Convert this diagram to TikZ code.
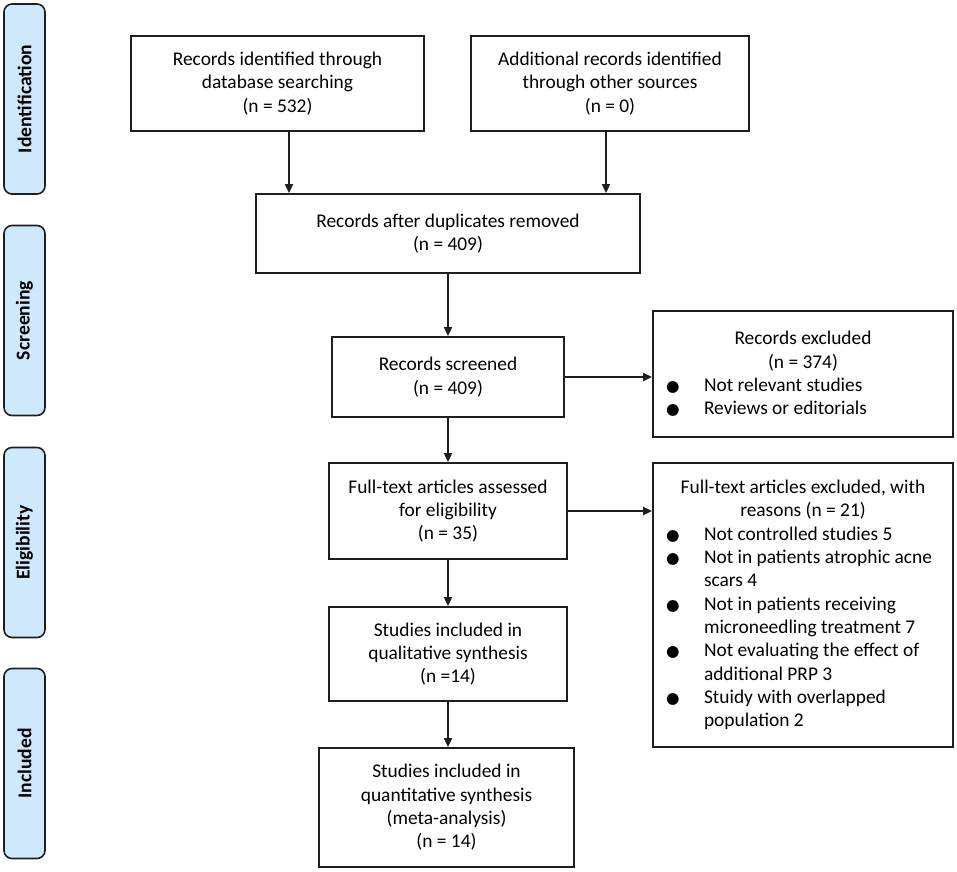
\documentclass[tikz,border=0pt]{standalone}
\usepackage{fontspec}
\setmainfont{Carlito}
\newfontfamily\symf{DejaVu Sans}
\usetikzlibrary{arrows.meta,positioning}
\definecolor{sidefill}{RGB}{207,233,252}
\definecolor{linecol}{RGB}{30,30,30}
\newcommand\bul{\makebox[51pt][l]{\hspace{13pt}{\symf\fontsize{15.5}{23.3}\selectfont ●}}}
\newcommand\ind{\hspace*{51pt}}
\begin{document}
\begin{tikzpicture}[x=1pt,y=-1pt,
  every node/.style={font=\fontsize{19.4}{23.3}\selectfont, text=black},
  mainbox/.style={draw=linecol, line width=1.8pt, fill=white, inner sep=0pt, align=center},
  sidebox/.style={draw=linecol, line width=1.6pt, fill=sidefill, rounded corners=8pt, rotate=90,
    minimum width=190pt, minimum height=41pt, inner sep=0pt, font=\fontsize{19.6}{23.3}\selectfont\bfseries},
  arr/.style={draw=linecol, line width=1.8pt, -{Triangle[length=9pt,width=8pt]}}
]
\useasboundingbox (0,0) rectangle (957,871);

% side labels
\node[sidebox] (sid) at (24.5,99) {Identification};
\node[sidebox] (sscr) at (24.5,320.5) {Screening};
\node[sidebox] (selg) at (24.5,542.5) {Eligibility};
\node[sidebox] (sinc) at (24.5,763.5) {Included};

% main boxes
\node[mainbox, minimum width=293pt, minimum height=95pt] (b1) at (277.5,83.5)
  {Records identified through\\database searching\\(n = 532)};
\node[mainbox, minimum width=278pt, minimum height=95pt] (b2) at (610,83.5)
  {Additional records identified\\through other sources\\(n = 0)};
\node[mainbox, minimum width=384pt, minimum height=79pt] (b3) at (448,233.5)
  {Records after duplicates removed\\(n = 409)};
\node[mainbox, minimum width=232pt, minimum height=80pt] (b4) at (448,377)
  {Records screened\\(n = 409)};
\node[mainbox, minimum width=238pt, minimum height=96pt] (b5) at (448,511)
  {Full-text articles assessed\\for eligibility\\(n = 35)};
\node[mainbox, minimum width=238pt, minimum height=94pt] (b6) at (448,654)
  {Studies included in\\qualitative synthesis\\(n =14)};
\node[mainbox, minimum width=255pt, minimum height=119pt] (b7) at (446.5,807.5)
  {Studies included in\\quantitative synthesis\\(meta-analysis)\\(n = 14)};

% exclusion boxes
\node[mainbox, minimum width=300pt, minimum height=126pt] (ex1) at (803,374)
  {\begin{minipage}{300pt}\centering Records excluded\\(n = 374)\par\raggedright
   \bul Not relevant studies\\
   \bul Reviews or editorials\end{minipage}};
\node[mainbox, minimum width=300pt, minimum height=284pt] (ex2) at (803,605)
  {\begin{minipage}{300pt}\centering Full-text articles excluded, with\\reasons (n = 21)\par\raggedright
   \bul Not controlled studies 5\\
   \bul Not in patients atrophic acne\\
   \ind scars 4\\
   \bul Not in patients receiving\\
   \ind microneedling treatment 7\\
   \bul Not evaluating the effect of\\
   \ind additional PRP 3\\
   \bul Stuidy with overlapped\\
   \ind population 2\end{minipage}};

% connectors
\coordinate (a1) at ([xshift=11.5pt]b1.south);
\coordinate (a2) at ([xshift=-4pt]b2.south);
\coordinate (a7) at ([xshift=1.5pt]b7.north);
\draw[arr] (a1) -- (a1 |- b3.north);
\draw[arr] (a2) -- (a2 |- b3.north);
\draw[arr] (b3.south) -- (b3.south |- b4.north);
\draw[arr] (b4.south) -- (b4.south |- b5.north);
\draw[arr] (b5.south) -- (b5.south |- b6.north);
\draw[arr] (b6.south) -- (a7);
\draw[arr] (b4.east) -- (b4.east -| ex1.west);
\draw[arr] (b5.east) -- (b5.east -| ex2.west);
\end{tikzpicture}
\end{document}
